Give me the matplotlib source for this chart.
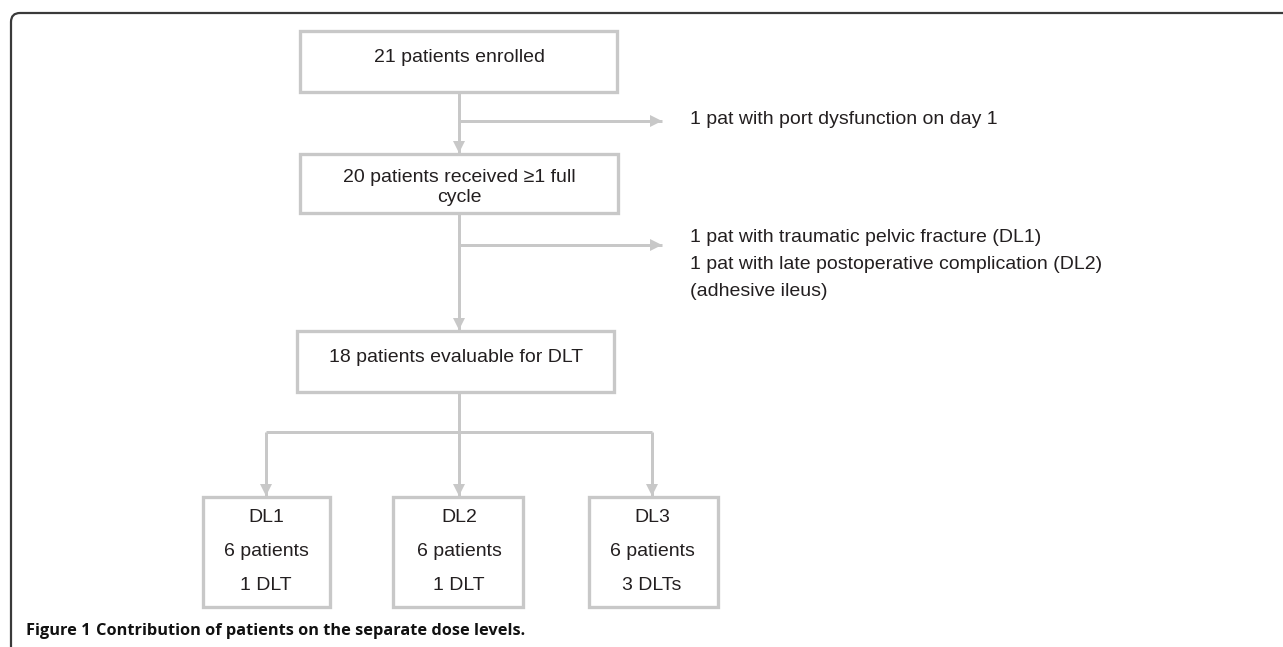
import numpy as np
import matplotlib.pyplot as plt
from matplotlib.path import Path
from matplotlib.patches import PathPatch, Rectangle, Polygon

# flowchart text
top_boxes = ["21 patients enrolled",
             "20 patients received \u22651 full\ncycle",
             "18 patients evaluable for DLT"]
excluded = [["1 pat with port dysfunction on day 1"],
            ["1 pat with traumatic pelvic fracture (DL1)",
             "1 pat with late postoperative complication (DL2)",
             "(adhesive ileus)"]]
dose_levels = ["DL1", "DL2", "DL3"]
dl_patients = [6, 6, 6]
dl_dlts = ["1 DLT", "1 DLT", "3 DLTs"]
caption_bold = "Figure 1"
caption_text = "Contribution of patients on the separate dose levels."

W, H = 1283, 647
gray = "#c8c8c8"
txt = "#231f20"
lw = 3 * 72 / 100

fig = plt.figure(figsize=(W / 100, H / 100), dpi=100)
ax = fig.add_axes([0, 0, 1, 1])
ax.set_xlim(0, W)
ax.set_ylim(H, 0)
ax.axis("off")

# outer frame with rounded top-left corner
r = 9
verts = [(11, H + 5), (11, 13 + r), (11, 13), (11 + r, 13), (W + 5, 13)]
codes = [Path.MOVETO, Path.LINETO, Path.CURVE3, Path.CURVE3, Path.LINETO]
ax.add_patch(PathPatch(Path(verts, codes), fill=False, ec="#3a3a3a", lw=1.6))


def box(x0, y0, x1, y1):
    ax.add_patch(Rectangle((x0, y0), x1 - x0, y1 - y0, fill=False,
                           ec=gray, lw=lw * 1.1))


def arrow(xs, ys):
    ax.plot(xs, ys, color=gray, lw=lw, solid_capstyle="butt")
    x0, y0, x1, y1 = xs[-2], ys[-2], xs[-1], ys[-1]
    d = np.array([x1 - x0, y1 - y0], float)
    d /= np.hypot(*d)
    n = np.array([-d[1], d[0]])
    tip = np.array([x1, y1])
    base = tip - d * 12
    ax.add_patch(Polygon([tip, base + n * 6, base - n * 6], closed=True,
                         fc=gray, ec="none"))


def line(xs, ys):
    ax.plot(xs, ys, color=gray, lw=lw, solid_capstyle="butt")


def label(x, y, s, ha="center"):
    ax.text(x, y, s, ha=ha, va="center", fontsize=14, color=txt,
            family="Liberation Sans")


cx = 459

# main boxes
box(300, 31, 617, 92)
label(cx, 57, top_boxes[0])
box(300, 154, 618, 213)
first, second = top_boxes[1].split("\n")
label(cx, 177, first)
label(cx, 197, second)
box(297, 331, 614, 392)
label(cx - 3, 357, top_boxes[2])

# vertical connectors and exclusion branches
arrow([cx, cx], [92, 153])
arrow([cx, cx], [213, 330])
arrow([cx, 662], [121, 121])
arrow([cx, 662], [245, 245])

# exclusions
label(690, 119, excluded[0][0], ha="left")
for i, s in enumerate(excluded[1]):
    label(690, 237 + i * 27.5, s, ha="left")

# dose level branches
dl_x = [266, 459, 652]
dl_left = [203, 393, 589]
dl_right = [330, 523, 718]
line([cx, cx], [392, 432])
line([dl_x[0], dl_x[-1]], [432, 432])
for i in range(3):
    arrow([dl_x[i], dl_x[i]], [432, 496])
    box(dl_left[i], 497, dl_right[i], 607)
    rows = [dose_levels[i], f"{dl_patients[i]} patients", dl_dlts[i]]
    for j, s in enumerate(rows):
        label(dl_x[i], 518 + j * 33.5, s)

# caption
t = ax.text(26, 631, caption_bold, ha="left", va="center", fontsize=11.8,
            color="#111111", family="Open Sans", weight="bold")
fig.canvas.draw()
bb = t.get_window_extent()
ax.text(26 + bb.width + 5, 631, caption_text, ha="left", va="center",
        fontsize=11.8, color="#111111", family="Open Sans", weight="bold")

fig.savefig("out.png", dpi=100)
